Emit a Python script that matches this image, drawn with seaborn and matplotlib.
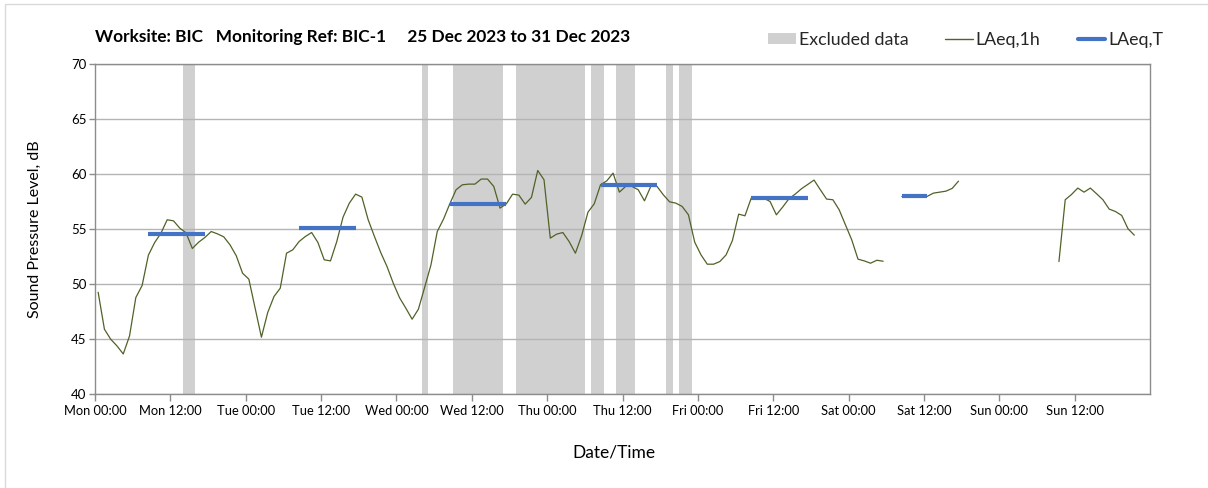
import numpy as np
import pandas as pd
import matplotlib
matplotlib.use("Agg")
import matplotlib.pyplot as plt
from matplotlib.patches import Patch, Rectangle
from matplotlib.lines import Line2D
import seaborn as sns

# ---------------- data ----------------
# hourly LAeq,1h values, plotted at the middle of each hour (hours since Mon 00:00)
seg1_start = 0.5
seg1_values = [
    49.25, 45.89, 44.98, 44.37, 43.64, 45.28, 48.77, 49.86, 52.62, 53.77,
    54.62, 55.84, 55.74, 55.08, 54.65, 53.23, 53.80, 54.23, 54.77, 54.56,
    54.29, 53.56, 52.56, 50.98, 50.44, 47.80, 45.16, 47.40, 48.86, 49.62,
    52.80, 53.11, 53.86, 54.32, 54.68, 53.77, 52.20, 52.10, 53.86, 56.08,
    57.35, 58.17, 57.90, 55.84, 54.32, 52.86, 51.59, 50.07, 48.75, 47.80,
    46.80, 47.71, 49.71, 51.74, 54.77, 55.90, 57.29, 58.57, 59.02, 59.08,
    59.08, 59.54, 59.54, 58.87, 56.90, 57.29, 58.17, 58.08, 57.26, 57.87,
    60.32, 59.48, 54.17, 54.53, 54.68, 53.86, 52.80, 54.41, 56.53, 57.29,
    59.02, 59.38, 60.08, 58.35, 58.87, 58.87, 58.57, 57.56, 58.87, 58.87,
    58.11, 57.47, 57.35, 57.05, 56.29, 53.80, 52.65, 51.80, 51.80, 52.04,
    52.65, 53.95, 56.35, 56.20, 57.81, 57.81, 57.80, 57.50, 56.29, 56.99,
    57.75, 58.17, 58.66, 59.05, 59.45, 58.57, 57.72, 57.66, 56.75, 55.38,
    54.02, 52.26, 52.10, 51.89, 52.16, 52.07,
]
seg2_start = 128.5
seg2_values = [57.95, 58.00, 57.95, 58.00, 57.96, 58.26, 58.35, 58.44, 58.69, 59.35]
seg3_start = 153.5
seg3_values = [52.04, 57.66, 58.14, 58.72, 58.35, 58.72, 58.20, 57.66, 56.81,
               56.59, 56.23, 55.02, 54.44]

# LAeq,T daytime periods
laeqT_start = [8.5, 32.5, 56.5, 80.5, 104.5, 128.5]
laeqT_end = [17.5, 41.5, 65.5, 89.5, 113.5, 132.5]
laeqT_value = [54.53, 55.08, 57.26, 59.02, 57.81, 57.96]

# excluded data periods (hours since Mon 00:00)
excl_start = [14, 52, 57, 67, 79, 83, 91, 93]
excl_end = [16, 53, 65, 78, 81, 86, 92, 95]

day_names = ["Mon", "Tue", "Wed", "Thu", "Fri", "Sat", "Sun"]
tick_labels = [f"{d} {t}" for d in day_names for t in ("00:00", "12:00")]
y_ticks = [40, 45, 50, 55, 60, 65, 70]

title_text = "Worksite: BIC   Monitoring Ref: BIC-1     25 Dec 2023 to 31 Dec 2023"

# ---------------- frames ----------------
rows = []
for sid, (st, vals) in enumerate([(seg1_start, seg1_values),
                                  (seg2_start, seg2_values),
                                  (seg3_start, seg3_values)]):
    for i, v in enumerate(vals):
        rows.append({"hour": st + i, "db": v, "seg": sid})
df_1h = pd.DataFrame(rows)

rows = []
for sid, (s, e, v) in enumerate(zip(laeqT_start, laeqT_end, laeqT_value)):
    rows.append({"hour": s, "db": v, "seg": sid})
    rows.append({"hour": e, "db": v, "seg": sid})
df_T = pd.DataFrame(rows)

# ---------------- style ----------------
sns.set_theme(style="white")
plt.rcParams["font.family"] = ["Lato", "DejaVu Sans"]

GREEN = "#4F6228"
BLUE = "#4472C4"
GREY = "#D0D0D0"
TXT = "#000000"

fig = plt.figure(figsize=(12.08, 4.88), dpi=100)
ax = fig.add_axes([95 / 1208, 94 / 488, 1055 / 1208, 330 / 488])

for s, e in zip(excl_start, excl_end):
    ax.axvspan(s, e, color=GREY, lw=0, zorder=0.2)

sns.lineplot(data=df_1h, x="hour", y="db", units="seg", estimator=None,
             color=GREEN, lw=0.9, ax=ax, legend=False, zorder=3)
sns.lineplot(data=df_T, x="hour", y="db", units="seg", estimator=None,
             color=BLUE, lw=3.0, ax=ax, legend=False, zorder=4,
             solid_capstyle="butt")

ax.set_xlim(0, 168)
ax.set_ylim(40, 70)
ax.set_xticks(np.arange(0, 168, 12))
ax.set_xticklabels(tick_labels)
ax.set_xticks(np.arange(24, 168, 24), minor=True)
ax.set_yticks(y_ticks)
ax.set_yticklabels([str(v) for v in y_ticks])

ax.set_axisbelow(True)
ax.yaxis.grid(True, color="#B4B4B4", lw=1.0)
ax.xaxis.grid(True, which="minor", color="#D9D9D9", lw=1.0)
ax.xaxis.grid(False, which="major")

for sp in ax.spines.values():
    sp.set_color("#8C8C8C")
    sp.set_linewidth(1.0)

ax.tick_params(axis="x", which="major", direction="out", length=5, width=1,
               color="#8C8C8C", labelsize=9.3, labelcolor=TXT, pad=3)
ax.tick_params(axis="x", which="minor", length=0)
ax.tick_params(axis="y", direction="out", length=4, width=1,
               color="#8C8C8C", labelsize=9.5, labelcolor=TXT, pad=2)
ax.tick_params(bottom=True, left=True)

ax.set_xlabel("")
ax.set_ylabel("")
fig.text(614 / 1208, 1 - 453 / 488, "Date/Time", ha="center", va="center",
         fontsize=12.5, color=TXT)
fig.text(35 / 1208, 1 - 229 / 488, "Sound Pressure Level, dB", ha="center",
         va="center", rotation=90, fontsize=11.5, color=TXT)

fig.text(95 / 1208, 1 - 37 / 488, title_text, ha="left", va="center",
         fontsize=12.4, fontweight="bold", color=TXT)

handles = [Patch(facecolor=GREY, edgecolor="none"),
           Line2D([], [], color=GREEN, lw=1.0),
           Line2D([], [], color=BLUE, lw=3.0)]
labels = ["Excluded data", "LAeq,1h", "LAeq,T"]
fig.legend(handles, labels, ncol=3, loc="center right",
           bbox_to_anchor=(1163 / 1208, 1 - 40 / 488), frameon=False,
           fontsize=12.8, handlelength=1.55, handleheight=0.6,
           handletextpad=0.15, columnspacing=2.1, borderaxespad=0,
           borderpad=0)

fig.add_artist(Rectangle((5 / 1208, -0.5), 2.0, (1 - 4 / 488) + 0.5,
                         transform=fig.transFigure, fill=False,
                         ec="#D9D9D9", lw=1.0))

fig.savefig("out.png", dpi=100)
